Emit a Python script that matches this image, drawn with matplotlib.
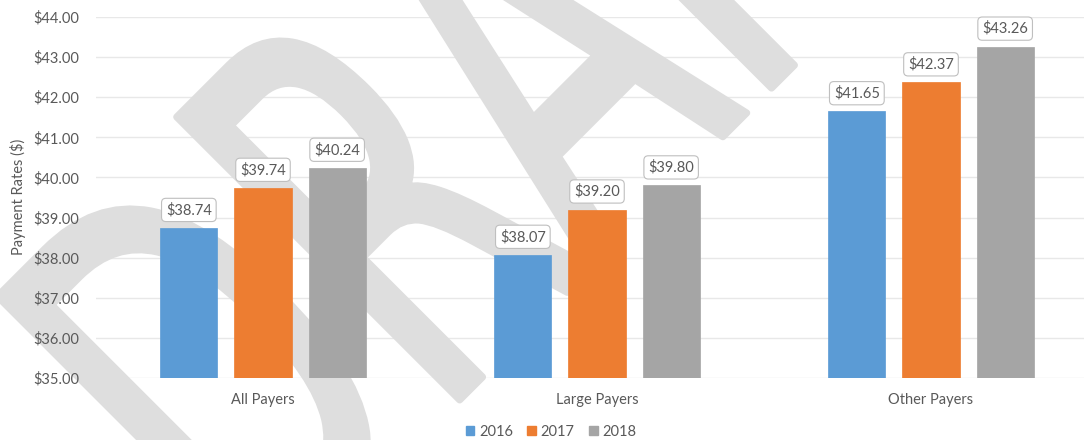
import matplotlib
matplotlib.use("Agg")
import matplotlib.pyplot as plt
from matplotlib.patches import Patch, PathPatch
from matplotlib.textpath import TextPath
from matplotlib.font_manager import FontProperties
from matplotlib.transforms import Affine2D, IdentityTransform
import numpy as np

categories = ["All Payers", "Large Payers", "Other Payers"]
years = ["2016", "2017", "2018"]
values_2016 = [38.74, 38.07, 41.65]
values_2017 = [39.74, 39.20, 42.37]
values_2018 = [40.24, 39.80, 43.26]
yticks = [35, 36, 37, 38, 39, 40, 41, 42, 43, 44]
colors = ["#5B9BD5", "#ED7D31", "#A5A5A5"]
watermark = "DRAFT"

plt.rcParams['font.family'] = ['Lato', 'DejaVu Sans']
txt = "#595959"

W, H = 1084, 440
fig = plt.figure(figsize=(W / 100, H / 100), dpi=100)
fig.patch.set_facecolor("white")

left, right, top, bottom = 96, 1084, 17, 378
rect = [left / W, 1 - bottom / H, (right - left) / W, (bottom - top) / H]
xlim = (-0.5, -0.5 + (right - left) / 334)

# background axes holding only the gridlines (below the watermark)
axg = fig.add_axes(rect, zorder=-2)
axg.set_facecolor("none")
axg.set_ylim(35, 44)
axg.set_xlim(*xlim)
axg.set_yticks(yticks)
axg.set_xticks([])
axg.tick_params(axis="y", length=0, labelleft=False)
axg.yaxis.grid(True, color="#e8e8e8", lw=1)
for sp in axg.spines.values():
    sp.set_visible(False)

# watermark (pixel space), above gridlines, below bars and text
em = 549
tp = TextPath((0, 0), watermark, size=em, prop=FontProperties(family="DejaVu Sans"))
sx = 0.6
rx, ry = 477 * sx, 400
c, s = np.cos(np.radians(45)), np.sin(np.radians(45))
rot = (rx * c - ry * s, rx * s + ry * c)
target = (177, H - 117)
tr = Affine2D().scale(sx, 1).rotate_deg(45).translate(target[0] - rot[0], target[1] - rot[1])
wm = PathPatch(tr.transform_path(tp), facecolor="#dedede", edgecolor="#dedede",
               lw=5, joinstyle="round", transform=IdentityTransform(), zorder=-1)
fig.add_artist(wm)

ax = fig.add_axes(rect, zorder=1)
ax.set_facecolor("none")

x = np.arange(len(categories))
width = 0.171
step = 0.222
series = [values_2016, values_2017, values_2018]
for i, (vals, col) in enumerate(zip(series, colors)):
    xs = x + (i - 1) * step
    ax.bar(xs, [v - 35 for v in vals], width, bottom=35, color=col, zorder=3,
           edgecolor=col, linewidth=0.5)
    for xi, v in zip(xs, vals):
        ax.annotate(f"${v:.2f}", (xi, v), xytext=(0, 13), textcoords="offset points",
                    ha="center", va="center", fontsize=10.5, color=txt, zorder=5,
                    bbox=dict(boxstyle="round,pad=0.3,rounding_size=0.3", fc="white",
                              ec="#bfbfbf", lw=0.8))

ax.set_ylim(35, 44)
ax.set_xlim(*xlim)
ax.set_yticks(yticks)
ax.set_yticklabels([f"${t:.2f}" for t in yticks], fontsize=10.5, color=txt)
ax.set_xticks(x)
ax.set_xticklabels(categories, fontsize=10.5, color=txt)
ax.tick_params(axis="y", length=0, pad=12)
ax.tick_params(axis="x", length=0, pad=11)
for sp in ax.spines.values():
    sp.set_visible(False)

fig.text(18 / W, 1 - 197 / H, "Payment Rates ($)", rotation=90, ha="center", va="center",
         fontsize=10.5, color=txt, zorder=5)

handles = [Patch(facecolor=col, edgecolor=col) for col in colors]
leg = fig.legend(handles, years, loc="center", bbox_to_anchor=(551 / W, 1 - 432 / H), ncol=3,
                 frameon=False, fontsize=10.5, handlelength=0.6, handleheight=0.6,
                 handletextpad=0.3, columnspacing=1.0, labelcolor=txt)
leg.set_zorder(5)

fig.savefig("out.png", dpi=100, facecolor="white")
